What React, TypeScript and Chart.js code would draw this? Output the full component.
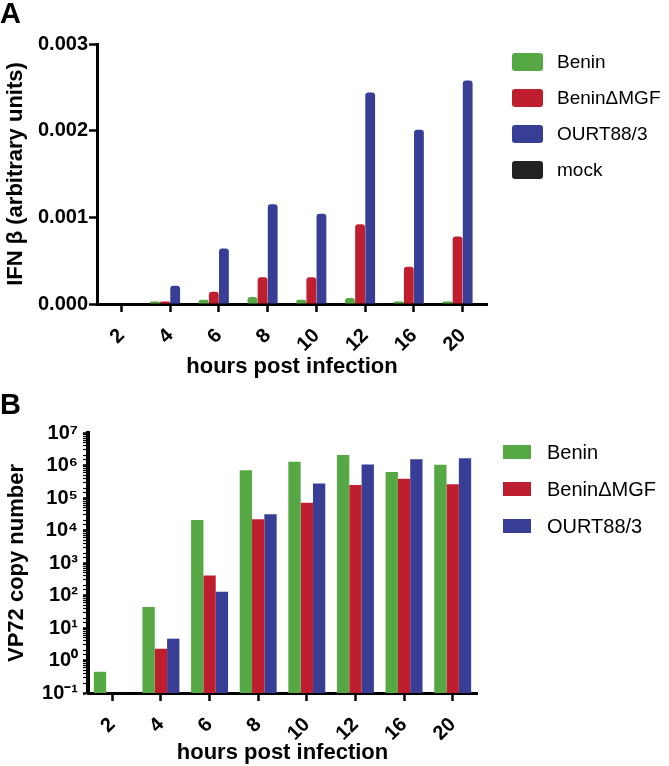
import { useEffect, useRef } from 'react';
import { Chart, registerables } from 'chart.js';

Chart.register(...registerables);

const FONT = "'Liberation Sans', Arial, sans-serif";
Chart.defaults.font.family = FONT;
Chart.defaults.color = '#000';

const hours = ['2', '4', '6', '8', '10', '12', '16', '20'];

// Panel A - IFN beta (arbitrary units)
const ifnBenin = [0, 0.00003, 0.00005, 0.00008, 0.00005, 0.00007, 0.00003, 0.00003];
const ifnBeninMGF = [0, 0.00003, 0.00014, 0.00031, 0.00031, 0.00092, 0.00043, 0.00078];
const ifnOurt = [0, 0.00021, 0.00064, 0.00115, 0.00104, 0.00244, 0.00201, 0.00258];
const ifnMock = [0, 0.00001, 0, 0, 0, 0.00001, 0, 0];
const ifnMax = 0.003;
const ifnStep = 0.001;

// Panel B - VP72 copy number (log)
const vpBenin = [0.45, 44, 21000, 720000, 1300000, 2100000, 630000, 1050000];
const vpBeninMGF = [null, 2.3, 415, 22000, 71000, 250000, 390000, 265000];
const vpOurt = [null, 4.7, 130, 31600, 280000, 1070000, 1560000, 1680000];
const vpMin = 0.1;
const vpMax = 1e7;

const GREEN = '#56a845';
const RED = '#bf1e2e';
const BLUE = '#383d96';
const BLACK = '#222222';

const SUP: Record<string, string> = {
  '0': '⁰', '1': '¹', '2': '²', '3': '³', '4': '⁴',
  '5': '⁵', '6': '⁶', '7': '⁷', '8': '⁸', '9': '⁹', '-': '⁻',
};

function powerLabel(value: number) {
  const e = Math.log10(value);
  if (Math.abs(e - Math.round(e)) > 1e-6) return '';
  return '10' + String(Math.round(e)).split('').map(c => SUP[c]).join('');
}

// legend drawn to the right of the plot area
const sideLegend = {
  id: 'sideLegend',
  afterDraw(chart: any, _args: any, opts: any) {
    const { ctx, chartArea } = chart;
    ctx.save();
    ctx.font = `${opts.fontSize}px ${FONT}`;
    ctx.textBaseline = 'middle';
    chart.data.datasets.forEach((ds: any, i: number) => {
      const x = chartArea.right + opts.offsetX;
      const y = chartArea.top + opts.offsetY + i * opts.spacing;
      ctx.fillStyle = ds.backgroundColor;
      ctx.beginPath();
      ctx.roundRect(x, y, opts.boxWidth, opts.boxHeight, opts.radius);
      ctx.fill();
      ctx.fillStyle = '#000';
      ctx.fillText(ds.label, x + opts.textGap, y + opts.boxHeight / 2 + 1);
    });
    ctx.restore();
  },
};

const tickFont = { size: 20, weight: 'bold' as const };
const titleFont = { size: 22, weight: 'bold' as const };

function xAxis(height: number, titleBottom: number) {
  return {
    offset: true,
    grid: {
      offset: false,
      drawOnChartArea: false,
      drawTicks: true,
      tickLength: 8,
      tickWidth: 2.5,
      tickColor: '#000',
    },
    border: { color: '#000', width: 3 },
    ticks: { font: tickFont, color: '#000', minRotation: 45, maxRotation: 45, autoSkip: false, padding: 12 },
    title: {
      display: true,
      text: 'hours post infection',
      font: titleFont,
      color: '#000',
      padding: { top: 0, bottom: titleBottom },
    },
    afterFit: (s: any) => { s.height = height; },
  };
}

function IfnChart() {
  const canvasRef = useRef<HTMLCanvasElement>(null);

  useEffect(() => {
    if (!canvasRef.current) return;
    const chart = new Chart(canvasRef.current, {
      type: 'bar',
      data: {
        labels: hours,
        datasets: [
          { label: 'Benin', data: ifnBenin, backgroundColor: GREEN },
          { label: 'BeninΔMGF', data: ifnBeninMGF, backgroundColor: RED },
          { label: 'OURT88/3', data: ifnOurt, backgroundColor: BLUE },
          { label: 'mock', data: ifnMock, backgroundColor: BLACK },
        ],
      },
      options: {
        responsive: true,
        maintainAspectRatio: false,
        animation: false,
        layout: { padding: { left: 0, right: 182, top: 0, bottom: 0 } },
        datasets: { bar: { categoryPercentage: 0.83, barPercentage: 0.97, borderRadius: 3 } },
        scales: {
          x: xAxis(81, 5) as any,
          y: {
            min: 0,
            max: ifnMax,
            grid: { drawOnChartArea: false, tickLength: 8, tickWidth: 2.5, tickColor: '#000' },
            border: { color: '#000', width: 3 },
            ticks: {
              stepSize: ifnStep,
              font: tickFont,
              color: '#000',
              padding: 1,
              callback: (v: any) => Number(v).toFixed(3),
            },
            title: {
              display: true,
              text: 'IFN β (arbitrary units)',
              font: titleFont,
              color: '#000',
              padding: { top: 3, bottom: 0 },
            },
            afterFit: (s: any) => { s.width = 97; },
          },
        },
        plugins: {
          legend: { display: false },
          tooltip: { enabled: false },
          title: {
            display: true,
            text: 'A',
            align: 'start',
            color: '#000',
            font: { size: 29, weight: 'bold', lineHeight: 1 },
            padding: { top: 0, bottom: 15 },
          },
          sideLegend: {
            offsetX: 25, offsetY: 9, spacing: 36,
            boxWidth: 31, boxHeight: 18, radius: 3, textGap: 45, fontSize: 19,
          },
        } as any,
      },
      plugins: [sideLegend],
    });
    return () => chart.destroy();
  }, []);

  return (
    <div style={{ position: 'relative', width: 669, height: 385 }}>
      <canvas ref={canvasRef} />
    </div>
  );
}

function Vp72Chart() {
  const canvasRef = useRef<HTMLCanvasElement>(null);

  useEffect(() => {
    if (!canvasRef.current) return;
    const chart = new Chart(canvasRef.current, {
      type: 'bar',
      data: {
        labels: hours,
        datasets: [
          { label: 'Benin', data: vpBenin, backgroundColor: GREEN },
          { label: 'BeninΔMGF', data: vpBeninMGF, backgroundColor: RED },
          { label: 'OURT88/3', data: vpOurt, backgroundColor: BLUE },
        ],
      },
      options: {
        responsive: true,
        maintainAspectRatio: false,
        animation: false,
        layout: { padding: { left: 0, right: 192, top: 0, bottom: 0 } },
        datasets: { bar: { categoryPercentage: 0.76, barPercentage: 1 } },
        scales: {
          x: xAxis(73, 0) as any,
          y: {
            type: 'logarithmic',
            min: vpMin,
            max: vpMax,
            grid: {
              drawOnChartArea: false,
              tickLength: 5,
              tickColor: '#000',
              tickWidth: (c: any) => (powerLabel(c.tick?.value ?? 2) ? 2.5 : 1.2),
            },
            border: { color: '#000', width: 4 },
            ticks: {
              font: tickFont,
              color: '#000',
              padding: 5,
              autoSkip: false,
              callback: (v: any) => powerLabel(Number(v)),
            },
            title: {
              display: true,
              text: 'VP72 copy number',
              font: titleFont,
              color: '#000',
              padding: { top: 4, bottom: 0 },
            },
            afterFit: (s: any) => { s.width = 88; },
          },
        },
        plugins: {
          legend: { display: false },
          tooltip: { enabled: false },
          title: {
            display: true,
            text: 'B',
            align: 'start',
            color: '#000',
            font: { size: 29, weight: 'bold', lineHeight: 1 },
            padding: { top: 6, bottom: 13 },
          },
          sideLegend: {
            offsetX: 26, offsetY: 12, spacing: 37,
            boxWidth: 28, boxHeight: 14, radius: 0, textGap: 44, fontSize: 20,
          },
        } as any,
      },
      plugins: [sideLegend],
    });
    return () => chart.destroy();
  }, []);

  return (
    <div style={{ position: 'relative', width: 669, height: 381 }}>
      <canvas ref={canvasRef} />
    </div>
  );
}

export default function App() {
  return (
    <div style={{ position: 'fixed', left: 0, top: 0, width: 669, height: 766, background: '#fff' }}>
      <IfnChart />
      <Vp72Chart />
    </div>
  );
}
